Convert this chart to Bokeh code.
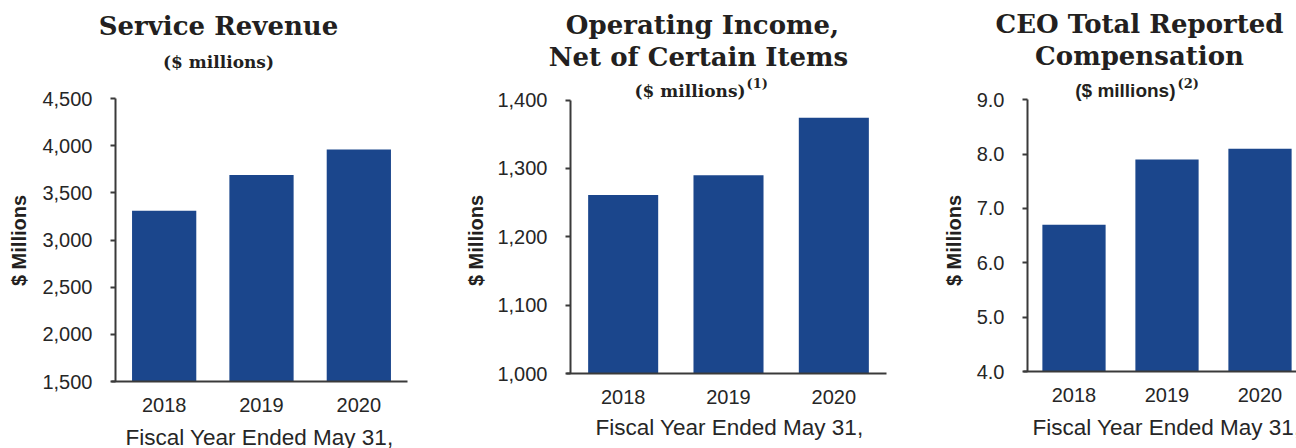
import math
from bokeh.plotting import figure
from bokeh.models import (Range1d, FixedTicker, NumeralTickFormatter, Label,
                          LinearAxis)
from bokeh.embed import file_html
from bokeh.resources import INLINE

# ---- data ----
years = ["2018", "2019", "2020"]
service_revenue = [3310, 3690, 3960]
operating_income = [1261, 1290, 1374]
ceo_compensation = [6.7, 7.9, 8.1]
service_ticks = [1500, 2000, 2500, 3000, 3500, 4000, 4500]
income_ticks = [1000, 1100, 1200, 1300, 1400]
ceo_ticks = [4.0, 5.0, 6.0, 7.0, 8.0, 9.0]
x_title = "Fiscal Year Ended May 31,"
y_title = "$ Millions"

W, H = 1296, 448
BAR = "#1B468C"
TXT = "#262626"
DARK = "#231F20"
AX = "#3A3A3A"
SERIF = "DejaVu Serif"
SANS = "Liberation Sans"

# page in pixel coordinates (y downwards) for the text annotations
p = figure(width=W, height=H, x_range=Range1d(0, W), y_range=Range1d(H, 0),
           x_axis_type=None, y_axis_type=None, output_backend="svg",
           toolbar_location=None, min_border=0,
           background_fill_color="white", border_fill_color="white")
p.outline_line_color = None
p.grid.visible = False


def panel(k, values, ticks, fmt, box, bar_w):
    left, right, top, bottom = box
    sx = 3.0 / (right - left)
    y0, y1 = ticks[0], ticks[-1]
    sy = (y1 - y0) / (bottom - top)
    xr, yr = "x%d" % k, "y%d" % k
    p.extra_x_ranges[xr] = Range1d(-0.5 - left * sx, -0.5 + (W - left) * sx)
    p.extra_y_ranges[yr] = Range1d(y0 - (H - bottom) * sy, y1 + top * sy)
    idx = list(range(len(years)))
    p.vbar(x=idx, top=values, bottom=y0, width=bar_w, color=BAR,
           line_color=None, x_range_name=xr, y_range_name=yr)

    xa = LinearAxis(x_range_name=xr, y_range_name=yr, fixed_location=y0,
                    bounds=(-0.5 - 4 * sx, 2.5))
    xa.ticker = FixedTicker(ticks=idx)
    xa.major_label_overrides = {i: y for i, y in enumerate(years)}
    xa.major_tick_out = 0
    xa.major_tick_in = 0
    xa.minor_tick_out = 0
    xa.minor_tick_in = 0
    xa.axis_line_color = AX
    xa.axis_line_width = 2
    xa.major_label_text_font = SANS
    xa.major_label_text_font_size = "20px"
    xa.major_label_text_color = TXT
    xa.major_label_standoff = 16
    p.add_layout(xa, "below")

    ya = LinearAxis(x_range_name=xr, y_range_name=yr, fixed_location=-0.5,
                    bounds=(y0, y1))
    ya.ticker = FixedTicker(ticks=ticks)
    ya.formatter = NumeralTickFormatter(format=fmt)
    ya.major_tick_out = 5
    ya.major_tick_in = 0
    ya.minor_tick_out = 0
    ya.minor_tick_in = 0
    ya.axis_line_color = AX
    ya.axis_line_width = 2
    ya.major_tick_line_color = AX
    ya.major_tick_line_width = 2
    ya.major_label_text_font = SANS
    ya.major_label_text_font_size = "20px"
    ya.major_label_text_color = TXT
    ya.major_label_standoff = 18
    p.add_layout(ya, "left")


def label(text, x, y, font, size, style="bold", align="center", angle=0,
          color=DARK):
    p.add_layout(Label(x=x, y=y, text=text, text_font=font,
                       text_font_size=size, text_font_style=style,
                       text_color=color, text_align=align,
                       text_baseline="middle", angle=angle))


panel(1, service_revenue, service_ticks, "0,0", (115, 407, 98, 381), 0.66)
panel(2, operating_income, income_ticks, "0,0", (570, 886, 99.5, 373), 0.665)
panel(3, ceo_compensation, ceo_ticks, "0.0", (1027, 1306, 99.3, 371), 0.68)

# panel 1 texts
label("Service Revenue", 218, 25, SERIF, "26px")
label("($ millions)", 218, 61, SERIF, "17px")
label(y_title, 18, 240, SANS, "20px", angle=math.pi / 2)
label(x_title, 259, 437, SANS, "22.5px", style="normal", color=TXT)

# panel 2 texts
label("Operating Income,", 702, 24, SERIF, "26px")
label("Net of Certain Items", 698, 56, SERIF, "26px")
label("($ millions)", 745, 90, SERIF, "17px", align="right")
label("(1)", 746, 83, SERIF, "13px", align="left")
label(y_title, 475, 240, SANS, "20px", angle=math.pi / 2)
label(x_title, 729, 427, SANS, "22.5px", style="normal", color=TXT)

# panel 3 texts
label("CEO Total Reported", 1139, 23, SERIF, "26px")
label("Compensation", 1139, 55, SERIF, "26px")
label("($ millions)", 1175, 90, SANS, "19px", align="right")
label("(2)", 1177, 83, SERIF, "13px", align="left")
label(y_title, 953, 240, SANS, "20px", angle=math.pi / 2)
label(x_title, 1166, 427, SANS, "22.5px", style="normal", color=TXT)

open("out.html", "w").write(file_html(p, INLINE))
